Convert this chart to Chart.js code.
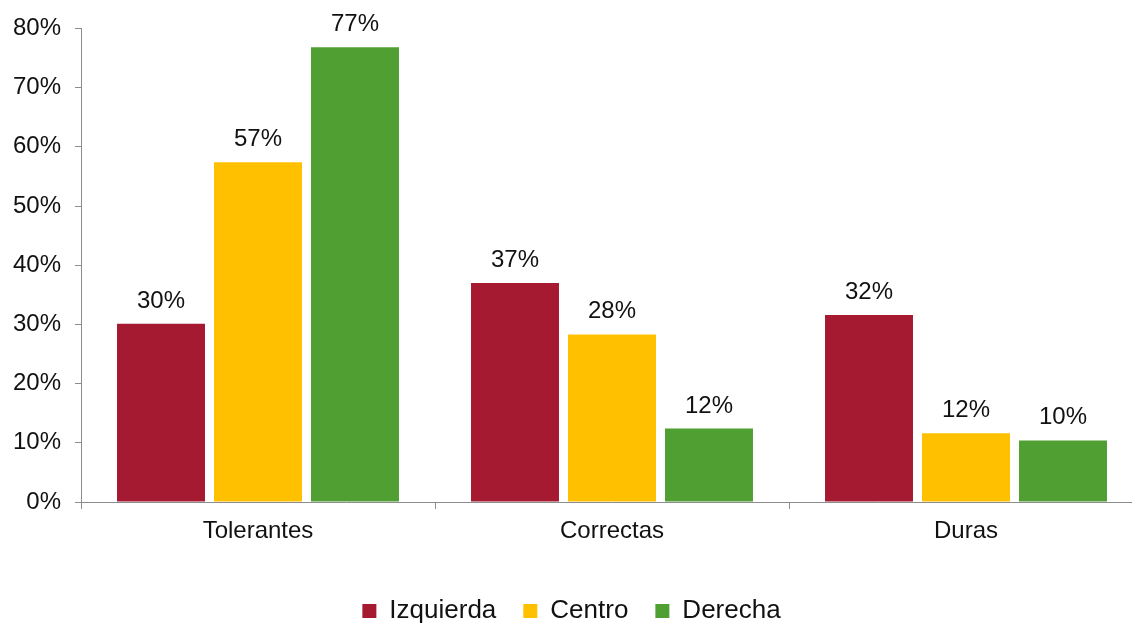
<!DOCTYPE html>
<html>
<head>
<meta charset="utf-8">
<script src="https://cdn.jsdelivr.net/npm/chart.js@4/dist/chart.umd.min.js"></script>
<style>
  html, body { margin:0; padding:0; background:#fff; overflow:hidden; }
  #wrap { position:relative; width:1145px; height:634px; }
</style>
</head>
<body>
<div id="wrap"><canvas id="chart"></canvas></div>
<script>
const categories = ['Tolerantes', 'Correctas', 'Duras'];
const izquierda  = [30.1, 37.0, 31.6];
const centro     = [57.4, 28.3, 11.6];
const derecha    = [76.8, 12.4, 10.4];
const seriesNames = ['Izquierda', 'Centro', 'Derecha'];
const C = { red:'#A51A30', yellow:'#FFC000', green:'#4F9F33', axis:'#8c8c8c', text:'#111' };

Chart.defaults.font.family = "'Liberation Sans', Arial, sans-serif";
Chart.defaults.color = C.text;

// labels above each bar
const barLabels = {
  id:'barLabels',
  afterDatasetsDraw(chart) {
    const ctx = chart.ctx;
    ctx.save();
    ctx.font = "24px 'Liberation Sans', Arial, sans-serif";
    ctx.fillStyle = C.text;
    ctx.textAlign = 'center';
    ctx.textBaseline = 'alphabetic';
    chart.data.datasets.forEach((ds, i) => {
      chart.getDatasetMeta(i).data.forEach((bar, j) => {
        ctx.fillText(Math.round(ds.data[j]) + '%', bar.x, bar.y - 16);
      });
    });
    ctx.restore();
  }
};

new Chart(document.getElementById('chart'), {
  type:'bar',
  data:{
    labels:categories,
    datasets:[
      { label:seriesNames[0], data:izquierda, backgroundColor:C.red },
      { label:seriesNames[1], data:centro,    backgroundColor:C.yellow },
      { label:seriesNames[2], data:derecha,   backgroundColor:C.green },
    ]
  },
  options:{
    responsive:true, maintainAspectRatio:false, animation:false,
    categoryPercentage:0.822, barPercentage:0.907,
    layout:{ padding:{ top:14, right:2, left:0, bottom:0 } },
    plugins:{
      legend:{ position:'bottom', labels:{ font:{ size:26 }, color:C.text, boxWidth:14, boxHeight:14, padding:27 } },
      tooltip:{ enabled:false }
    },
    scales:{
      y:{ min:0, max:80,
        ticks:{ stepSize:10, callback:v=>v+'%', font:{ size:24 }, color:C.text, padding:14 },
        grid:{ drawOnChartArea:false, tickLength:6, color:C.axis },
        border:{ color:C.axis },
        afterFit:s=>{ s.width = 81; }
      },
      x:{
        ticks:{ font:{ size:24 }, color:C.text, padding:8 },
        grid:{ drawOnChartArea:false, tickLength:7, color:C.axis },
        border:{ color:C.axis },
        afterFit:s=>{ s.height = 69; }
      }
    }
  },
  plugins:[barLabels]
});
</script>
</body>
</html>
